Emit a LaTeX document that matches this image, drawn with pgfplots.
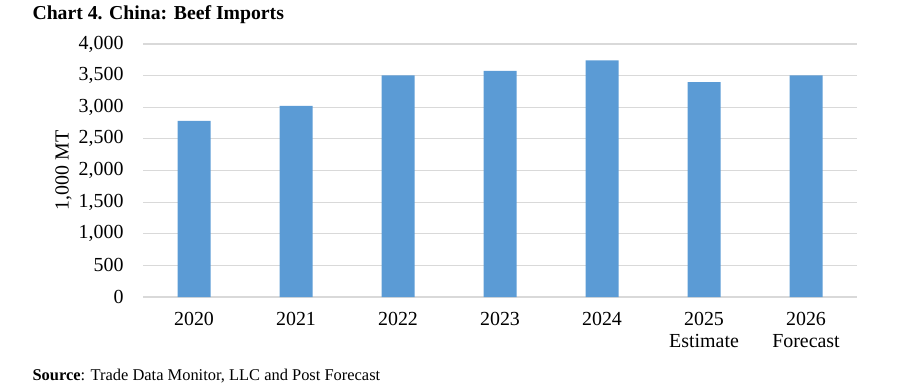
\documentclass[border=0pt]{standalone}
\usepackage{fontspec}
\setmainfont{Liberation Serif}
\usepackage{pgfplots}
\pgfplotsset{compat=1.18}
\definecolor{barblue}{HTML}{5B9BD5}
\definecolor{gridgray}{HTML}{D9D9D9}
\begin{document}
\begin{tikzpicture}[x=1bp,y=1bp]
\useasboundingbox (0,0) rectangle (897,391);
\node[anchor=west,font=\fontsize{19.8}{21}\selectfont\bfseries] at (29,376) {Chart 4. China: Beef Imports};
\node[anchor=west,font=\fontsize{16.5}{18}\selectfont] at (29,15) {\textbf{Source}: Trade Data Monitor, LLC and Post Forecast};
\begin{axis}[
  at={(143bp,94bp)}, anchor=south west,
  width=714bp, height=253bp, scale only axis,
  ymin=0, ymax=4000, ytick={0,500,...,4000},
  xmin=-0.5, xmax=6.5,
  xtick=data,
  xticklabels={2020,2021,2022,2023,2024,{2025\\Estimate},{2026\\Forecast}},
  xticklabel style={align=center, font=\fontsize{20}{22}\selectfont, yshift=-12bp},
  yticklabel style={font=\fontsize{20}{22}\selectfont, xshift=-16bp},
  /pgf/number format/assume math mode=true,
  /pgf/number format/1000 sep={,},
  ymajorgrids, grid style={gridgray, line width=1.2pt},
  major tick length=0pt,
  axis lines*=left,
  y axis line style={draw=none},
  x axis line style={gridgray, line width=1.2pt, -},
  ylabel={1,000 MT},
  ylabel style={font=\fontsize{20}{22}\selectfont},
  ybar, bar width=33bp,
]
\addplot[fill=barblue, draw=none] coordinates {(0,2785) (1,3022) (2,3505) (3,3574) (4,3740) (5,3396) (6,3505)};
\end{axis}
\end{tikzpicture}
\end{document}
